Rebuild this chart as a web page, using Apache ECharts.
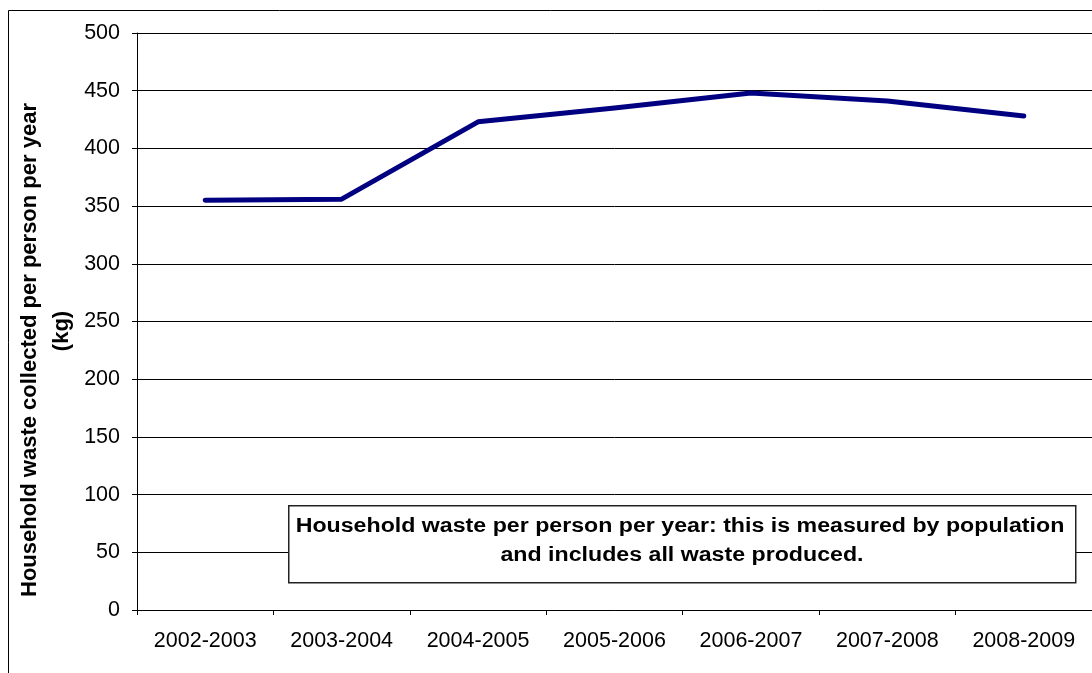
<!DOCTYPE html>
<html>
<head>
<meta charset="utf-8">
<script src="https://cdn.jsdelivr.net/npm/echarts@6/dist/echarts.min.js"></script>
<style>
html,body{margin:0;padding:0;background:#fff;}
#chart{width:1092px;height:673px;}
</style>
</head>
<body>
<div id="chart"></div>
<script>
const categories = ['2002-2003','2003-2004','2004-2005','2005-2006','2006-2007','2007-2008','2008-2009'];
const wastePerPerson = [355, 356, 423, 435, 448, 441, 428];
const yTicks = {min: 0, max: 500, interval: 50};
const yTitleLine1 = 'Household waste collected per person per year';
const yTitleLine2 = '(kg)';
const noteLine1 = 'Household waste per person per year: this is measured by population';
const noteLine2 = 'and includes all waste produced.';

const chart = echarts.init(document.getElementById('chart'), null, {renderer: 'canvas'});
const font = 'Arial, "Liberation Sans", sans-serif';
chart.setOption({
  animation: false,
  backgroundColor: '#fff',
  grid: {left: 137, top: 33, right: -1, bottom: 63, containLabel: false},
  xAxis: {
    type: 'category',
    data: categories,
    boundaryGap: true,
    axisLine: {lineStyle: {color: '#000', width: 1}},
    axisTick: {show: true, alignWithLabel: false, length: 5, lineStyle: {color: '#000'}},
    axisLabel: {color: '#000', fontFamily: font, fontSize: 21.5, margin: 20}
  },
  yAxis: {
    type: 'value',
    min: yTicks.min, max: yTicks.max, interval: yTicks.interval,
    axisLine: {show: true, lineStyle: {color: '#000', width: 1}},
    axisTick: {show: true, length: 5, lineStyle: {color: '#000'}},
    axisLabel: {color: '#000', fontFamily: font, fontSize: 21.5, margin: 17},
    splitLine: {show: true, lineStyle: {color: '#000', width: 1}}
  },
  series: [{
    type: 'line',
    data: wastePerPerson,
    showSymbol: false,
    symbol: 'none',
    lineStyle: {color: '#000080', width: 5, cap: 'round', join: 'round'},
    z: 3
  }],
  graphic: [
    {type: 'rect', left: 6, top: 8, shape: {width: 1100, height: 700}, style: {fill: 'none', stroke: '#000', lineWidth: 1}, z: 10, silent: true},
    {type: 'text', x: 30, y: 350, rotation: Math.PI / 2, style: {text: yTitleLine1, fill: '#000', font: 'bold 22px ' + font, align: 'center', verticalAlign: 'middle'}, z: 10},
    {type: 'text', x: 62, y: 331, rotation: Math.PI / 2, style: {text: yTitleLine2, fill: '#000', font: 'bold 22px ' + font, align: 'center', verticalAlign: 'middle'}, z: 10},
    {type: 'rect', left: 288, top: 505, shape: {width: 787, height: 77}, style: {fill: '#fff', stroke: '#222', lineWidth: 1.5}, z: 20},
    {type: 'text', x: 680, y: 526, scaleX: 1.12, style: {text: noteLine1, fill: '#000', font: 'bold 20.7px ' + font, align: 'center', verticalAlign: 'middle'}, z: 21},
    {type: 'text', x: 682, y: 555, scaleX: 1.12, style: {text: noteLine2, fill: '#000', font: 'bold 20.7px ' + font, align: 'center', verticalAlign: 'middle'}, z: 21}
  ]
});
</script>
</body>
</html>
